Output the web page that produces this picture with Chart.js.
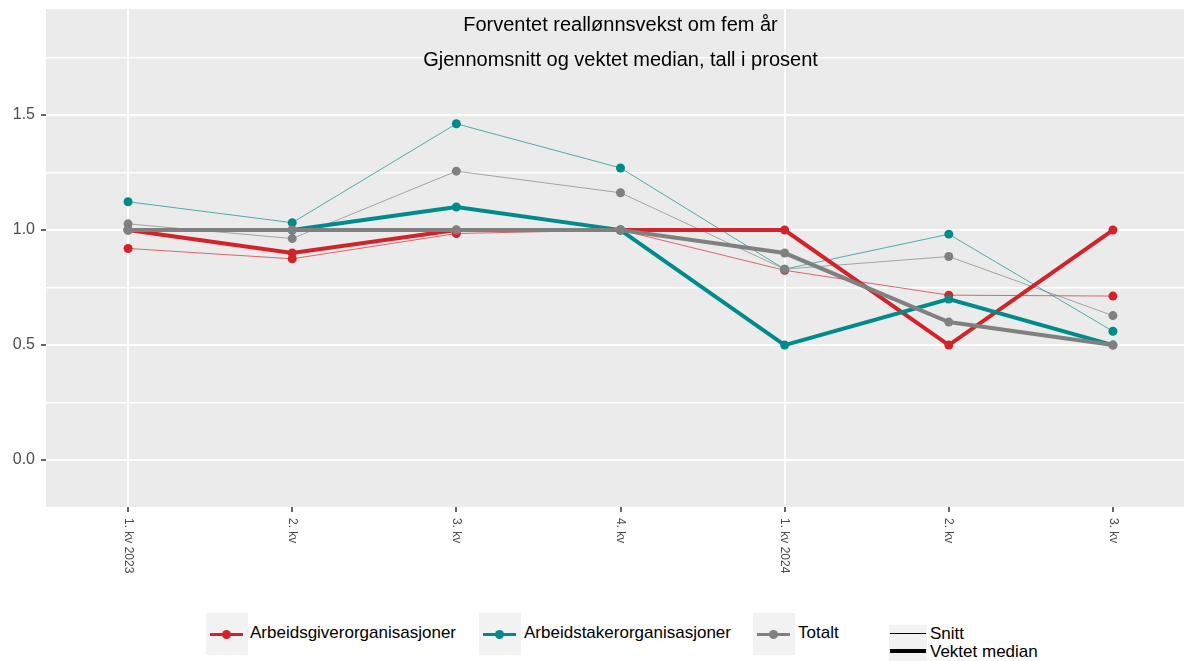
<!DOCTYPE html>
<html>
<head>
<meta charset="utf-8">
<title>Forventet reallønnsvekst om fem år</title>
<script src="https://cdn.jsdelivr.net/npm/chart.js@4.4.1/dist/chart.umd.min.js"></script>
<style>
  body {
    margin: 0;
    width: 1184px;
    height: 661px;
    overflow: hidden;
    background: #ffffff;
    position: relative;
    font-family: "Liberation Sans", Arial, Helvetica, sans-serif;
  }
  #chart { position: absolute; left: 0; top: 0; }
  .key { position: absolute; background: #f2f2f2; }
  .key .line { position: absolute; }
  .key .dot { position: absolute; width: 9px; height: 9px; border-radius: 50%; }
  .lbl {
    position: absolute;
    font-size: 17px;
    line-height: 18px;
    color: #000;
    white-space: nowrap;
  }
</style>
</head>
<body>

<canvas id="chart" width="1195" height="600"></canvas>

<!-- legend -->
<div class="key" style="left:206px; top:613px; width:42px; height:42px;">
  <div class="line" style="left:4px; top:20px; width:33px; height:3px; background:#d2232a;"></div>
  <div class="dot" style="left:16px; top:17px; background:#d2232a;"></div>
</div>
<div class="lbl" style="left:250px; top:624px;">Arbeidsgiverorganisasjoner</div>

<div class="key" style="left:479px; top:613px; width:42px; height:42px;">
  <div class="line" style="left:4px; top:20px; width:33px; height:3px; background:#008b8b;"></div>
  <div class="dot" style="left:16px; top:17px; background:#008b8b;"></div>
</div>
<div class="lbl" style="left:524px; top:624px;">Arbeidstakerorganisasjoner</div>

<div class="key" style="left:753px; top:613px; width:42px; height:42px;">
  <div class="line" style="left:4px; top:20px; width:33px; height:3px; background:#808080;"></div>
  <div class="dot" style="left:16px; top:17px; background:#808080;"></div>
</div>
<div class="lbl" style="left:798px; top:624px;">Totalt</div>

<div class="key" style="left:889px; top:625px; width:38px; height:36px;">
  <div class="line" style="left:1px; top:8px; width:36px; height:1px; background:#000;"></div>
  <div class="line" style="left:1px; top:24px; width:36px; height:4px; background:#000;"></div>
</div>
<div class="lbl" style="left:930px; top:625px;">Snitt</div>
<div class="lbl" style="left:930px; top:643px;">Vektet median</div>

<script>
// ---------------- DATA ----------------
const quarters = ["1. kv 2023", "2. kv", "3. kv", "4. kv", "1. kv 2024", "2. kv", "3. kv"];
const xMajor = [0, 4];                       // quarters that get a vertical grid line
const yTicks = [0, 0.25, 0.5, 0.75, 1, 1.25, 1.5, 1.75];

// Snitt (gjennomsnitt)
const giverSnitt  = [0.92, 0.875, 0.985, 1.0, 0.825, 0.717, 0.713];
const takerSnitt  = [1.123, 1.032, 1.462, 1.27, 0.83, 0.982, 0.56];
const totaltSnitt = [1.027, 0.963, 1.256, 1.162, 0.83, 0.885, 0.628];

// Vektet median
const giverMedian  = [1.0, 0.9, 1.0, 1.0, 1.0, 0.5, 1.0];
const takerMedian  = [1.0, 1.0, 1.1, 1.0, 0.5, 0.7, 0.5];
const totaltMedian = [1.0, 1.0, 1.0, 1.0, 0.9, 0.6, 0.5];

const titleLines = ["Forventet reallønnsvekst om fem år", "Gjennomsnitt og vektet median, tall i prosent"];

// ---------------- STYLE ----------------
const RED = "#d2232a";
const TEAL = "#008b8b";
const GREY = "#808080";
const FONT = '"Liberation Sans", Arial, Helvetica, sans-serif';

function points(values) {
    return values.map((v, i) => ({ x: i, y: v }));
}

function series(label, values, color, thick, order) {
    return {
        label: label,
        data: points(values),
        borderColor: thick ? color : color + "aa",
        backgroundColor: color,
        borderWidth: thick ? 4 : 1,
        pointRadius: 4.5,
        pointBorderWidth: 0,
        pointBackgroundColor: color,
        tension: 0,
        order: order
    };
}

// ---------------- PLUGINS ----------------
const panelPlugin = {
    id: "panel",
    beforeDraw(chart) {
        const { ctx, chartArea } = chart;
        ctx.save();
        ctx.fillStyle = "#ebebeb";
        ctx.fillRect(chartArea.left, chartArea.top, chartArea.right - chartArea.left, chartArea.bottom - chartArea.top);
        ctx.restore();
    },
    beforeDatasetsDraw(chart) {
        const { ctx, chartArea } = chart;
        const cx = (chartArea.left + chartArea.right) / 2;
        ctx.save();
        ctx.fillStyle = "#000";
        ctx.font = "20px " + FONT;
        ctx.textAlign = "center";
        ctx.textBaseline = "alphabetic";
        ctx.fillText(titleLines[0], cx, 31);
        ctx.fillText(titleLines[1], cx, 66);
        ctx.restore();
    },
    afterDraw(chart) {
        // x labels read top to bottom
        const ctx = chart.ctx;
        const xs = chart.scales.x;
        const top = chart.chartArea.bottom + 11;
        ctx.save();
        ctx.fillStyle = "#4d4d4d";
        ctx.font = "12px " + FONT;
        ctx.textAlign = "left";
        ctx.textBaseline = "middle";
        quarters.forEach((q, i) => {
            ctx.save();
            ctx.translate(xs.getPixelForValue(i), top);
            ctx.rotate(Math.PI / 2);
            ctx.fillText(q, 0, 0);
            ctx.restore();
        });
        ctx.restore();
    }
};

function isMajorY(v) {
    return Math.abs(v * 2 - Math.round(v * 2)) < 1e-9;
}

// ---------------- CHART ----------------
new Chart(document.getElementById("chart"), {
    type: "line",
    data: {
        datasets: [
            series("Totalt – vektet median", totaltMedian, GREY, true, 0),
            series("Arbeidstakerorganisasjoner – vektet median", takerMedian, TEAL, true, 1),
            series("Arbeidsgiverorganisasjoner – vektet median", giverMedian, RED, true, 2),
            series("Totalt – snitt", totaltSnitt, GREY, false, 3),
            series("Arbeidstakerorganisasjoner – snitt", takerSnitt, TEAL, false, 4),
            series("Arbeidsgiverorganisasjoner – snitt", giverSnitt, RED, false, 5)
        ]
    },
    options: {
        responsive: false,
        animation: false,
        layout: { autoPadding: false, padding: { top: 9, right: 0, left: 0, bottom: 0 } },
        plugins: {
            legend: { display: false },
            title: { display: false },
            tooltip: { enabled: false }
        },
        scales: {
            x: {
                type: "linear",
                min: -0.5,
                max: 6.5,
                afterBuildTicks: scale => {
                    scale.ticks = quarters.map((q, i) => ({ value: i }));
                },
                afterFit: scale => {
                    scale.height = 93;
                    scale.paddingLeft = 0;
                    scale.paddingRight = 0;
                },
                border: { display: false },
                grid: {
                    color: ctx => xMajor.includes(ctx.tick.value) ? "#ffffff" : "rgba(0,0,0,0)",
                    lineWidth: 2,
                    tickColor: "#333333",
                    tickLength: 5,
                    tickWidth: 1.5
                },
                ticks: { display: false }
            },
            y: {
                min: -0.204,
                max: 1.961,
                afterBuildTicks: scale => {
                    scale.ticks = yTicks.map(v => ({ value: v }));
                },
                afterFit: scale => {
                    scale.width = 46;
                    scale.paddingTop = 0;
                    scale.paddingBottom = 0;
                },
                border: { display: false },
                grid: {
                    color: "#ffffff",
                    lineWidth: ctx => isMajorY(ctx.tick.value) ? 2 : 1.5,
                    tickColor: ctx => isMajorY(ctx.tick.value) ? "#333333" : "rgba(0,0,0,0)",
                    tickLength: 5,
                    tickWidth: 1.5
                },
                ticks: {
                    padding: 6,
                    color: "#4d4d4d",
                    font: { family: FONT, size: 16 },
                    callback: v => isMajorY(v) ? v.toFixed(1) : ""
                }
            }
        }
    },
    plugins: [panelPlugin]
});
</script>
</body>
</html>
